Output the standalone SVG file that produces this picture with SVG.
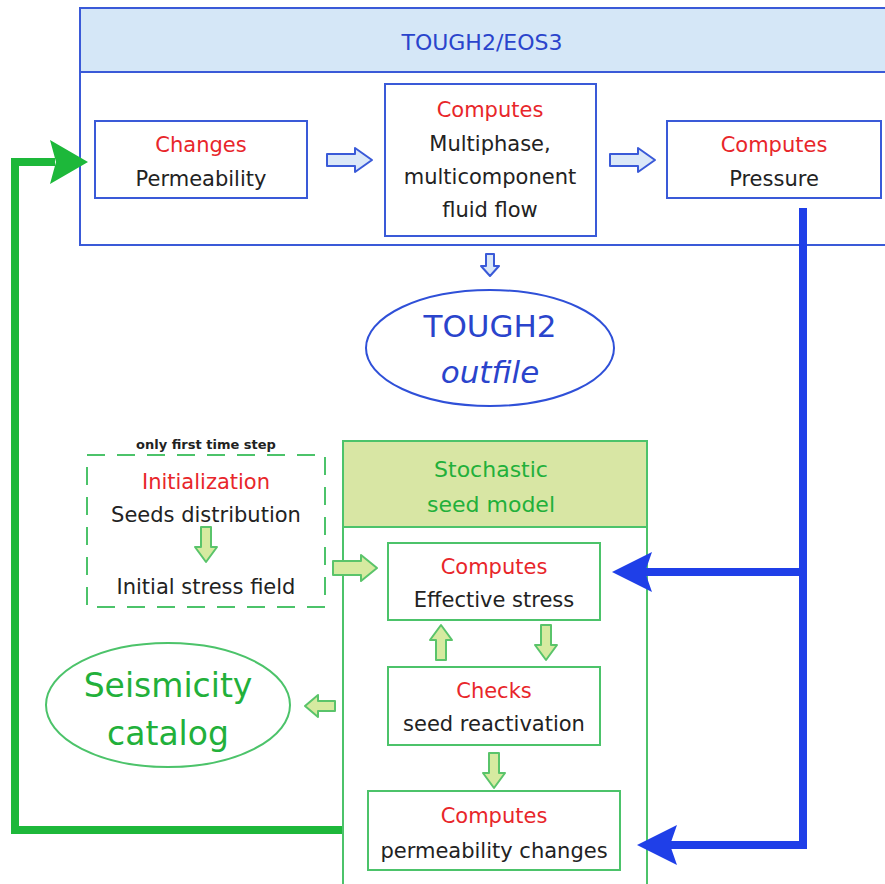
<svg xmlns="http://www.w3.org/2000/svg" width="885" height="884" viewBox="0 0 885 884">
<style>
text{font-family:"DejaVu Sans","Liberation Sans",sans-serif;text-anchor:middle}
.t{font-size:21px;fill:#222}
.r{font-size:21px;fill:#e8262a}
.bb{fill:#fff;stroke:#3a5ad8;stroke-width:2}
.gb{fill:#fff;stroke:#4cc36a;stroke-width:2}
.ha{fill:#dbe8f8;stroke:#3a5ad8;stroke-width:2;stroke-linejoin:round}
.ga{fill:#d6eaa0;stroke:#5ac46a;stroke-width:2;stroke-linejoin:round}
.bl{fill:none;stroke:#1f3fe8;stroke-width:8}
.gl{fill:none;stroke:#1db83a;stroke-width:8}
</style>
<defs>
<path id="arR" d="M0,-6 H28 V-12 L45,0 L28,12 V6 H0 Z"/>
<path id="arD" d="M-5,0 V20 H-11 L0,35 L11,20 H5 V0 Z"/>
</defs>
<rect width="885" height="884" fill="#fff"/>

<g id="tough2">
<rect x="80" y="8" width="820" height="237" fill="#fff" stroke="#3a5ad8" stroke-width="2"/>
<rect x="81" y="9" width="818" height="63" fill="#d5e7f7"/>
<line x1="80" y1="72" x2="900" y2="72" stroke="#3a5ad8" stroke-width="2"/>
<text x="482" y="50" style="font-size:22px;fill:#2a44cc">TOUGH2/EOS3</text>
</g>

<g id="changes">
<rect class="bb" x="95" y="121" width="212" height="77"/>
<text class="r" x="201" y="152">Changes</text>
<text class="t" x="201" y="186">Permeability</text>
</g>

<g id="multiphase">
<rect class="bb" x="385" y="84" width="211" height="152"/>
<text class="r" x="490" y="117">Computes</text>
<text class="t" x="490" y="151">Multiphase,</text>
<text class="t" x="490" y="184">multicomponent</text>
<text class="t" x="490" y="217">fluid flow</text>
</g>

<g id="pressure">
<rect class="bb" x="667" y="121" width="214" height="77"/>
<text class="r" x="774" y="152">Computes</text>
<text class="t" x="774" y="186">Pressure</text>
</g>

<g id="outfile">
<ellipse cx="490" cy="348" rx="124" ry="58" fill="#fff" stroke="#2f50d8" stroke-width="2"/>
<text x="490" y="337" style="font-size:31px;fill:#2a44cc">TOUGH2</text>
<text x="490" y="383" style="font-size:31px;fill:#2a44cc;font-style:italic">outfile</text>
</g>

<g id="init">
<text x="206" y="449" style="font-size:13px;font-weight:bold;fill:#222">only first time step</text>
<rect x="87" y="455" width="238" height="152" fill="none" stroke="#4cc36a" stroke-width="2" stroke-dasharray="18,12"/>
<text class="r" x="206" y="489">Initialization</text>
<text class="t" x="206" y="522">Seeds distribution</text>
<text class="t" x="206" y="594">Initial stress field</text>
</g>

<g id="stochastic">
<rect x="343" y="441" width="304" height="460" fill="#fff" stroke="#4cc36a" stroke-width="2"/>
<rect x="344" y="442" width="302" height="85" fill="#d8e6a4"/>
<line x1="343" y1="527" x2="647" y2="527" stroke="#4cc36a" stroke-width="2"/>
<text x="491" y="477" style="font-size:22px;fill:#22b03a">Stochastic</text>
<text x="491" y="512" style="font-size:22px;fill:#22b03a">seed model</text>
</g>

<g id="stress">
<rect class="gb" x="388" y="543" width="212" height="77"/>
<text class="r" x="494" y="574">Computes</text>
<text class="t" x="494" y="607">Effective stress</text>
</g>

<g id="checks">
<rect class="gb" x="388" y="667" width="212" height="78"/>
<text class="r" x="494" y="698">Checks</text>
<text class="t" x="494" y="731">seed reactivation</text>
</g>

<g id="permchanges">
<rect class="gb" x="368" y="791" width="252" height="79"/>
<text class="r" x="494" y="823">Computes</text>
<text class="t" x="494" y="858">permeability changes</text>
</g>

<g id="seismicity">
<ellipse cx="168" cy="705" rx="122" ry="62" fill="#fff" stroke="#4cc36a" stroke-width="2"/>
<text x="168" y="697" style="font-size:33px;fill:#22b03a">Seismicity</text>
<text x="168" y="745" style="font-size:33px;fill:#22b03a">catalog</text>
</g>

<g id="connectors">
<use href="#arR" class="ha" x="327" y="160"/>
<use href="#arR" class="ha" x="610" y="160"/>
<path class="ha" d="M486,254 V266 H481 L490,276 L499,266 H494 V254 Z"/>
<use href="#arD" class="ga" x="206" y="527"/>
<path class="ga" d="M333,561 H361 V555 L377,568 L361,581 V575 H333 Z"/>
<use href="#arD" class="ga" transform="translate(441,660) scale(1,-1)"/>
<use href="#arD" class="ga" x="546" y="625"/>
<use href="#arD" class="ga" x="494" y="753"/>
<path class="ga" d="M305,706 L318,695 V701 H335 V711 H318 V717 Z"/>
<polyline class="bl" points="803,208 803,845 670,845"/>
<line class="bl" x1="803" y1="572" x2="645" y2="572"/>
<polygon fill="#1f3fe8" points="612,572 652,552 645,572 652,592"/>
<polygon fill="#1f3fe8" points="637,845 677,825 670,845 677,865"/>
<polyline class="gl" points="342,830 15,830 15,162 55,162"/>
<polygon fill="#1db83a" points="88,162 50,140 56,162 50,184"/>
</g>
</svg>
